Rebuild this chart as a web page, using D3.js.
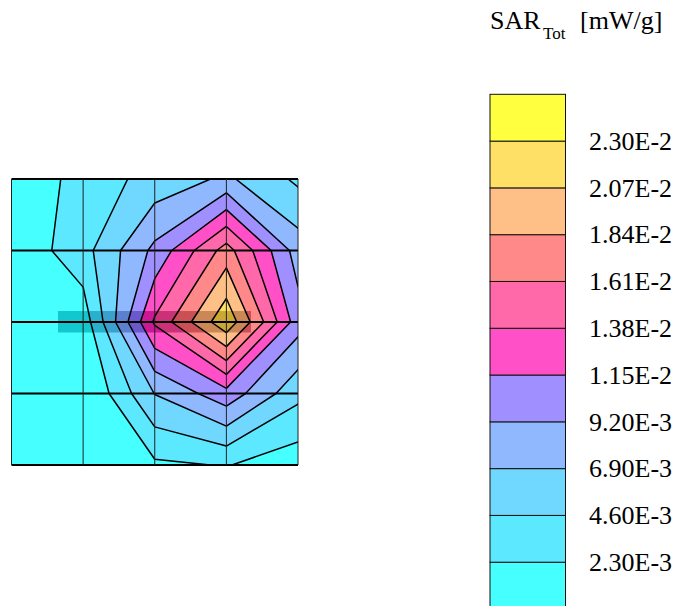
<!DOCTYPE html>
<html><head><meta charset="utf-8">
<script src="https://cdnjs.cloudflare.com/ajax/libs/d3/7.8.5/d3.min.js"></script>
<style>html,body{margin:0;padding:0;background:#fff;overflow:hidden}svg{display:block}text{font-family:"Liberation Serif",serif;fill:#000}</style>
</head><body><svg id="c" width="676" height="606"></svg>
<script>
// SAR values read at the 5x5 mesh nodes, in 1e-3 mW/g (values implied by contour crossings)
const row0 = [0.32, 3.20, 5.45, 7.31, 4.16];
const row1 = [0.44, 3.75, 9.78, 17.09, 8.14];
const row2 = [0.23, 0.92, 14.15, 22.47, 10.24];
const row3 = [0.23, -0.35, 6.97, 10.65, 5.24];
const row4 = [0.23, 0.23, 1.89, 2.42, 0.90];
const levels = [2.3, 4.6, 6.9, 9.2, 11.5, 13.8, 16.1, 18.4, 20.7, 23.0];
const bandColors = ["#46ffff","#5ce8ff","#70d8ff","#90b8ff","#a090ff","#ff50c8","#ff69aa","#ff8888","#ffc088","#ffe066","#ffff40"];
const tickLabels = ["2.30E-3","4.60E-3","6.90E-3","9.20E-3","1.15E-2","1.38E-2","1.61E-2","1.84E-2","2.07E-2","2.30E-2"];

const svg = d3.select("#c");
const grid = [row0,row1,row2,row3,row4];
const nx = 5, ny = 5;
const x = d3.scaleLinear().domain([0,nx-1]).range([11.5,298]);
const y = d3.scaleLinear().domain([0,ny-1]).range([179,465]);

svg.append("clipPath").attr("id","plot").append("rect")
  .attr("x",x(0)).attr("y",y(0)).attr("width",x(4)-x(0)).attr("height",y(4)-y(0));

const contours = d3.contours().size([nx,ny]).thresholds(levels).smooth(true)(grid.flat());
const path = d3.geoPath(d3.geoTransform({point(px,py){this.stream.point(x(px-0.5),y(py-0.5));}}));

const plot = svg.append("g").attr("clip-path","url(#plot)").style("isolation","isolate");
plot.append("rect").attr("x",x(0)).attr("y",y(0)).attr("width",x(4)-x(0)).attr("height",y(4)-y(0)).attr("fill",bandColors[0]);
plot.selectAll("path.fill").data(contours).join("path").attr("class","fill")
  .attr("d",path).attr("fill",(d,i)=>bandColors[i+1]);

// probe shadow: darkens every band by about the same amount
plot.append("rect").attr("x",58).attr("y",311).attr("width",193).attr("height",21.5)
  .attr("fill","rgb(52,56,50)").style("mix-blend-mode","difference");

plot.selectAll("path.line").data(contours).join("path").attr("class","line")
  .attr("d",path).attr("fill","none").attr("stroke","#000").attr("stroke-width",1.5).attr("stroke-linejoin","round");

// mesh
const mesh = svg.append("g").attr("stroke","#000");
mesh.selectAll("line.h").data(d3.range(ny)).join("line").attr("class","h")
  .attr("x1",x(0)).attr("x2",x(4)).attr("y1",d=>y(d)).attr("y2",d=>y(d)).attr("stroke-width",1.8);
mesh.selectAll("line.v").data(d3.range(nx)).join("line").attr("class","v")
  .attr("y1",y(0)).attr("y2",y(4)).attr("x1",d=>x(d)).attr("x2",d=>x(d)).attr("stroke-width",1).attr("stroke","#222");

// legend
const ly = d3.scaleLinear().domain([bandColors.length,0]).range([94.3,609]);
const lg = svg.append("g");
lg.selectAll("rect").data(bandColors).join("rect")
  .attr("x",490).attr("width",75.5)
  .attr("y",(d,i)=>ly(i+1)).attr("height",(d,i)=>ly(i)-ly(i+1))
  .attr("fill",d=>d).attr("stroke","#111").attr("stroke-width",1);
lg.selectAll("text").data(tickLabels).join("text")
  .attr("x",589).attr("y",(d,i)=>ly(i+1)+8.7).attr("font-size",26).text(d=>d);

const t = svg.append("text").attr("y",29).attr("font-size",26);
t.append("tspan").attr("x",490).text("SAR");
t.append("tspan").attr("x",543).attr("y",39).attr("font-size",17).text("Tot");
t.append("tspan").attr("x",580).attr("y",29).text("[mW/g]");
</script></body></html>
